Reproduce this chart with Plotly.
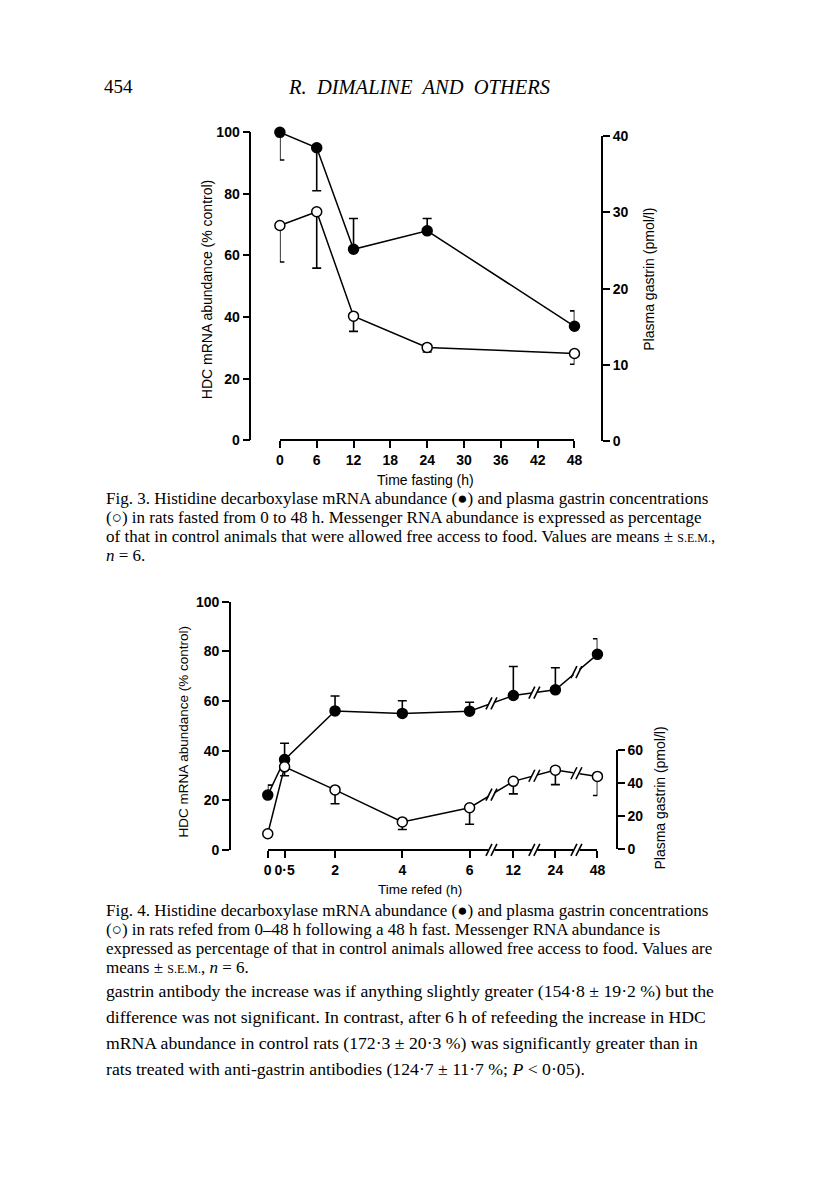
import plotly.graph_objects as go

# Fig. 3 - fasting
fast_time = [0, 6, 12, 24, 48]
fast_hdc = [100, 95, 62, 68, 37]
fast_hdc_err_up = [0, 0, 10, 4, 5]
fast_hdc_err_down = [9, 14, 0, 0, 0]
fast_gastrin = [28.3, 30.1, 16.4, 12.3, 11.5]
fast_gastrin_err_up = [0, 0, 0, 0, 0]
fast_gastrin_err_down = [4.8, 7.4, 2.0, 0.6, 1.4]

# Fig. 4 - refeeding
refed_time = [0, 0.5, 2, 4, 6, 12, 24, 48]
refed_time_labels = ['0', '0·5', '2', '4', '6', '12', '24', '48']
refed_hdc = [22.1, 36.4, 56.0, 55.0, 55.9, 62.2, 64.5, 78.8]
refed_hdc_err_up = [4.0, 6.6, 6.0, 5.1, 3.6, 11.7, 8.9, 6.3]
refed_hdc_err_down = [0, 0, 0, 0, 0, 0, 0, 0]
refed_gastrin = [9.2, 49.8, 35.8, 16.4, 25.0, 41.0, 47.8, 44.0]
refed_gastrin_err_up = [0, 0, 0, 0, 0, 0, 0, 0]
refed_gastrin_err_down = [1.0, 5.4, 8.4, 4.6, 10.0, 7.6, 8.8, 11.6]

W, H = 816, 1204
SANS = 'Liberation Sans, Arial, sans-serif'
SERIF = 'Liberation Serif, Times New Roman, serif'


def px(x):
    return x / W


def py(y):
    return 1 - y / H


def refed_pos(t):
    # broken axis: linear up to 6 h, then equal steps for 12, 24, 48 h
    if t <= 6:
        return t
    return 7.3 + 1.25 * [12, 24, 48].index(t)


refed_x = [refed_pos(t) for t in refed_time]
break_x = [(refed_x[i] + refed_x[i + 1]) / 2 for i in range(4, 7)]

fig = go.Figure()


def series(x, y, up, down, xa, ya, filled):
    fig.add_trace(go.Scatter(
        x=x, y=y, xaxis=xa, yaxis=ya, mode='lines+markers', cliponaxis=False,
        line=dict(color='black', width=1.5),
        marker=dict(size=10, color='black' if filled else 'white',
                    line=dict(color='black', width=1.5)),
        error_y=dict(type='data', symmetric=False, array=up, arrayminus=down,
                     color='black', thickness=1.6, width=4.5),
        showlegend=False))


series(fast_time, fast_hdc, fast_hdc_err_up, fast_hdc_err_down, 'x', 'y', True)
series(fast_time, fast_gastrin, fast_gastrin_err_up, fast_gastrin_err_down, 'x', 'y2', False)
series(refed_x, refed_hdc, refed_hdc_err_up, refed_hdc_err_down, 'x2', 'y3', True)
series(refed_x, refed_gastrin, refed_gastrin_err_up, refed_gastrin_err_down, 'x2', 'y4', False)

tickfont = dict(family=SANS, size=14, color='black', weight='bold')
axis_common = dict(showline=True, linecolor='black', linewidth=1.6, ticks='outside',
                   ticklen=7, tickwidth=1.6, tickcolor='black', showgrid=False,
                   zeroline=False, tickfont=tickfont, fixedrange=True)

fig.update_layout(
    width=W, height=H, margin=dict(l=0, r=0, t=0, b=0),
    paper_bgcolor='white', plot_bgcolor='rgba(0,0,0,0)',
    xaxis=dict(axis_common, domain=[px(280), px(579)], range=[0, 48],
               tickvals=list(range(0, 49, 6)), anchor='free', position=py(438)),
    yaxis=dict(axis_common, domain=[py(438), py(126)], range=[0, 100],
               tickvals=[0, 20, 40, 60, 80, 100], anchor='free', position=px(250)),
    yaxis2=dict(axis_common, domain=[py(439), py(130)], range=[0, 40],
                tickvals=[0, 10, 20, 30, 40], anchor='free', position=px(607), side='right'),
    xaxis2=dict(axis_common, domain=[px(267.7), px(602.3)], range=[0, refed_x[-1]],
                tickvals=refed_x, ticktext=refed_time_labels, anchor='free', position=py(853.3)),
    yaxis3=dict(axis_common, domain=[py(853.3), py(601.7)], range=[0, 100],
                tickvals=[0, 20, 40, 60, 80, 100], anchor='free', position=px(229.3)),
    yaxis4=dict(axis_common, domain=[py(852.3), py(752)], range=[0, 60],
                tickvals=[0, 20, 40, 60], anchor='free', position=px(622), side='right'),
)

ann = []
shapes = []


def text(x, y, s, size, family=SANS, angle=0, xanchor='center'):
    ann.append(dict(x=px(x), y=py(y), xref='paper', yref='paper', text=s, showarrow=False,
                    textangle=angle, xanchor=xanchor, yanchor='middle', borderpad=0,
                    font=dict(family=family, size=size, color='black')))


def brk(x, y, yref):
    # "//" break mark: white gap then two slanted strokes
    base = dict(xref='x2', yref=yref, xsizemode='pixel', ysizemode='pixel',
                xanchor=x, yanchor=y, layer='above')
    shapes.append(dict(base, type='rect', x0=-3, x1=3, y0=-3, y1=3,
                       fillcolor='white', line=dict(width=0)))
    for dx in (-2.5, 2.5):
        shapes.append(dict(base, type='line', x0=dx - 3, x1=dx + 3, y0=-6, y1=6,
                           line=dict(color='black', width=1.6)))


for i, bx in enumerate(break_x):
    a, b = refed_x[4 + i], refed_x[5 + i]
    f = (bx - a) / (b - a)
    brk(bx, refed_hdc[4 + i] + f * (refed_hdc[5 + i] - refed_hdc[4 + i]), 'y3')
    brk(bx, refed_gastrin[4 + i] + f * (refed_gastrin[5 + i] - refed_gastrin[4 + i]), 'y4')
    brk(bx, py(853.3), 'paper')

# axis titles
text(206, 285, 'HDC mRNA abundance (% control)', 14, angle=-90)
text(655, 275, 'Plasma gastrin (pmol/l)', 14, angle=-90)
text(428, 478, 'Time fasting (h)', 14)
text(182, 733, 'HDC mRNA abundance (% control)', 13.5, angle=-90)
text(666, 801, 'Plasma gastrin (pmol/l)', 14, angle=-90)
text(422, 893, 'Time refed (h)', 13.5)

# page header
text(100, 80, '454', 19, SERIF, xanchor='left')
text(421, 80, '<i>R.&nbsp; DIMALINE&nbsp; AND&nbsp; OTHERS</i>', 20.5, SERIF)

sem = '<span style="font-size:12px">S.E.M.</span>'
cap3 = [
    'Fig. 3. Histidine decarboxylase mRNA abundance (●) and plasma gastrin concentrations',
    '(○) in rats fasted from 0 to 48 h. Messenger RNA abundance is expressed as percentage',
    'of that in control animals that were allowed free access to food. Values are means ± ' + sem + ',',
    '<i>n</i> = 6.',
]
for i, s in enumerate(cap3):
    text(103, 497 + 19.2 * i, s, 17, SERIF, xanchor='left')

cap4 = [
    'Fig. 4. Histidine decarboxylase mRNA abundance (●) and plasma gastrin concentrations',
    '(○) in rats refed from 0–48 h following a 48 h fast. Messenger RNA abundance is',
    'expressed as percentage of that in control animals allowed free access to food. Values are',
    'means ± ' + sem + ', <i>n</i> = 6.',
]
for i, s in enumerate(cap4):
    text(103, 915 + 19.2 * i, s, 17, SERIF, xanchor='left')

body = [
    'gastrin antibody the increase was if anything slightly greater (154·8 ± 19·2 %) but the',
    'difference was not significant. In contrast, after 6 h of refeeding the increase in HDC',
    'mRNA abundance in control rats (172·3 ± 20·3 %) was significantly greater than in',
    'rats treated with anti-gastrin antibodies (124·7 ± 11·7 %; <i>P</i> &lt; 0·05).',
]
for i, s in enumerate(body):
    text(103, 996 + 26.4 * i, s, 17.7, SERIF, xanchor='left')

fig.update_layout(annotations=ann, shapes=shapes)
fig.write_html('out.html', config={'displayModeBar': False},
               post_script="document.body.style.margin='0';")
